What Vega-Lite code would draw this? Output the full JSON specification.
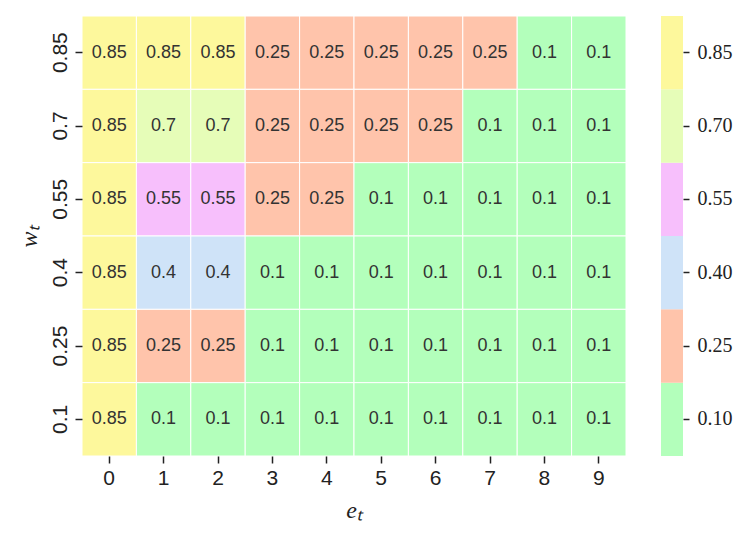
{
  "$schema": "https://vega.github.io/schema/vega-lite/v6.json",
  "background": "white",
  "padding": {"left": 17, "top": 15, "right": 5, "bottom": 5},
  "spacing": 34,
  "datasets": {
    "cells": [
      {"e": 0, "w": 0.85, "v": 0.85}, {"e": 1, "w": 0.85, "v": 0.85}, {"e": 2, "w": 0.85, "v": 0.85}, {"e": 3, "w": 0.85, "v": 0.25}, {"e": 4, "w": 0.85, "v": 0.25},
      {"e": 5, "w": 0.85, "v": 0.25}, {"e": 6, "w": 0.85, "v": 0.25}, {"e": 7, "w": 0.85, "v": 0.25}, {"e": 8, "w": 0.85, "v": 0.1}, {"e": 9, "w": 0.85, "v": 0.1},
      {"e": 0, "w": 0.7, "v": 0.85}, {"e": 1, "w": 0.7, "v": 0.7}, {"e": 2, "w": 0.7, "v": 0.7}, {"e": 3, "w": 0.7, "v": 0.25}, {"e": 4, "w": 0.7, "v": 0.25},
      {"e": 5, "w": 0.7, "v": 0.25}, {"e": 6, "w": 0.7, "v": 0.25}, {"e": 7, "w": 0.7, "v": 0.1}, {"e": 8, "w": 0.7, "v": 0.1}, {"e": 9, "w": 0.7, "v": 0.1},
      {"e": 0, "w": 0.55, "v": 0.85}, {"e": 1, "w": 0.55, "v": 0.55}, {"e": 2, "w": 0.55, "v": 0.55}, {"e": 3, "w": 0.55, "v": 0.25}, {"e": 4, "w": 0.55, "v": 0.25},
      {"e": 5, "w": 0.55, "v": 0.1}, {"e": 6, "w": 0.55, "v": 0.1}, {"e": 7, "w": 0.55, "v": 0.1}, {"e": 8, "w": 0.55, "v": 0.1}, {"e": 9, "w": 0.55, "v": 0.1},
      {"e": 0, "w": 0.4, "v": 0.85}, {"e": 1, "w": 0.4, "v": 0.4}, {"e": 2, "w": 0.4, "v": 0.4}, {"e": 3, "w": 0.4, "v": 0.1}, {"e": 4, "w": 0.4, "v": 0.1},
      {"e": 5, "w": 0.4, "v": 0.1}, {"e": 6, "w": 0.4, "v": 0.1}, {"e": 7, "w": 0.4, "v": 0.1}, {"e": 8, "w": 0.4, "v": 0.1}, {"e": 9, "w": 0.4, "v": 0.1},
      {"e": 0, "w": 0.25, "v": 0.85}, {"e": 1, "w": 0.25, "v": 0.25}, {"e": 2, "w": 0.25, "v": 0.25}, {"e": 3, "w": 0.25, "v": 0.1}, {"e": 4, "w": 0.25, "v": 0.1},
      {"e": 5, "w": 0.25, "v": 0.1}, {"e": 6, "w": 0.25, "v": 0.1}, {"e": 7, "w": 0.25, "v": 0.1}, {"e": 8, "w": 0.25, "v": 0.1}, {"e": 9, "w": 0.25, "v": 0.1},
      {"e": 0, "w": 0.1, "v": 0.85}, {"e": 1, "w": 0.1, "v": 0.1}, {"e": 2, "w": 0.1, "v": 0.1}, {"e": 3, "w": 0.1, "v": 0.1}, {"e": 4, "w": 0.1, "v": 0.1},
      {"e": 5, "w": 0.1, "v": 0.1}, {"e": 6, "w": 0.1, "v": 0.1}, {"e": 7, "w": 0.1, "v": 0.1}, {"e": 8, "w": 0.1, "v": 0.1}, {"e": 9, "w": 0.1, "v": 0.1}
    ],
    "bar": [
      {"v": 0.1}, {"v": 0.25}, {"v": 0.4}, {"v": 0.55}, {"v": 0.7}, {"v": 0.85}
    ]
  },
  "config": {
    "view": {"stroke": null},
    "axis": {"domain": false, "grid": false, "tickColor": "#222", "tickWidth": 1.5, "labelColor": "#222", "titleColor": "#222"}
  },
  "hconcat": [
    {
      "width": 544,
      "height": 440,
      "data": {"name": "cells"},
      "encoding": {
        "x": {"field": "e", "type": "ordinal", "scale": {"paddingInner": 0, "paddingOuter": 0},
          "axis": {"title": "eₜ", "labelAngle": 0, "labelFont": "Liberation Sans", "labelFontSize": 21, "tickSize": 7, "labelPadding": 4,
            "titleFont": "Liberation Serif", "titleFontStyle": "italic", "titleFontWeight": "normal", "titleFontSize": 24, "titlePadding": 10}},
        "y": {"field": "w", "type": "ordinal", "sort": "descending", "scale": {"paddingInner": 0, "paddingOuter": 0},
          "axis": {"title": "wₜ", "labelAngle": 270, "labelAlign": "center", "labelBaseline": "bottom", "labelFont": "Liberation Sans", "labelFontSize": 21, "tickSize": 7, "labelPadding": 5,
            "titleFont": "Liberation Serif", "titleFontStyle": "italic", "titleFontWeight": "normal", "titleFontSize": 24, "titlePadding": 8}}
      },
      "layer": [
        {
          "mark": {"type": "rect", "stroke": "white", "strokeWidth": 1},
          "encoding": {
            "color": {"field": "v", "type": "ordinal", "legend": null,
              "scale": {"domain": [0.1, 0.25, 0.4, 0.55, 0.7, 0.85], "range": ["#b3ffbb", "#ffc4ab", "#cfe3f8", "#f7bffc", "#e6fdb8", "#fdf89c"]}}
          }
        },
        {
          "mark": {"type": "text", "font": "Liberation Sans", "fontSize": 18, "color": "#333333"},
          "encoding": {"text": {"field": "v", "type": "quantitative"}}
        }
      ]
    },
    {
      "width": 22,
      "height": 440,
      "data": {"name": "bar"},
      "mark": {"type": "rect"},
      "encoding": {
        "y": {"field": "v", "type": "ordinal", "sort": "descending", "scale": {"paddingInner": 0, "paddingOuter": 0},
          "axis": {"title": null, "orient": "right", "format": ".2f", "labelFont": "Liberation Serif", "labelFontSize": 20, "tickSize": 6, "labelPadding": 8}},
        "color": {"field": "v", "type": "ordinal", "legend": null,
          "scale": {"domain": [0.1, 0.25, 0.4, 0.55, 0.7, 0.85], "range": ["#b3ffbb", "#ffc4ab", "#cfe3f8", "#f7bffc", "#e6fdb8", "#fdf89c"]}}
      }
    }
  ]
}
